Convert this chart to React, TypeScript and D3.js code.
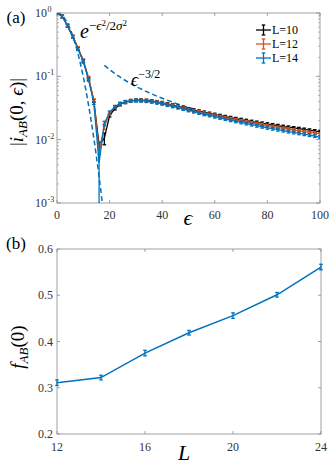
import React from 'react';
import * as d3 from 'd3';

// ---- panel (a): |i_AB(0, eps)| vs eps, step 2 ----
const epsGrid = d3.range(0, 101, 2);

const iL10 = [1, 0.88, 0.63, 0.42, 0.275, 0.175, 0.092, 0.041, 0.0083, 0.0105, 0.024, 0.031, 0.036, 0.039, 0.041,
  0.042, 0.042, 0.0415, 0.0408, 0.0395, 0.0382, 0.0366, 0.035, 0.0335, 0.032, 0.0306, 0.0293, 0.0281, 0.027, 0.0259,
  0.0249, 0.0239, 0.023, 0.0222, 0.0214, 0.0207, 0.02, 0.0193, 0.0187, 0.0181, 0.0176, 0.0171, 0.0166, 0.0161, 0.0157,
  0.0153, 0.0149, 0.0145, 0.0141, 0.0137, 0.0133];
const iL12 = [1, 0.88, 0.64, 0.43, 0.28, 0.18, 0.095, 0.042, 0.0068, 0.016, 0.026, 0.033, 0.037, 0.0395, 0.041,
  0.0418, 0.0417, 0.0411, 0.0403, 0.039, 0.0376, 0.036, 0.0344, 0.0328, 0.0313, 0.0299, 0.0286, 0.0274, 0.0262, 0.0251,
  0.0241, 0.0231, 0.0222, 0.0214, 0.0206, 0.0198, 0.0191, 0.0184, 0.0178, 0.0172, 0.0166, 0.0161, 0.0156, 0.0151, 0.0147,
  0.0142, 0.0138, 0.0134, 0.013, 0.0127, 0.0123];
const iL14 = [1, 0.88, 0.63, 0.42, 0.27, 0.17, 0.088, 0.038, 0.0043, 0.018, 0.027, 0.033, 0.037, 0.0395, 0.041,
  0.0415, 0.0413, 0.0406, 0.0397, 0.0383, 0.0369, 0.0352, 0.0336, 0.032, 0.0305, 0.029, 0.0277, 0.0264, 0.0252, 0.0241,
  0.0231, 0.0221, 0.0212, 0.0203, 0.0195, 0.0187, 0.018, 0.0173, 0.0166, 0.016, 0.0154, 0.0149, 0.0144, 0.0139, 0.0134,
  0.013, 0.0126, 0.0122, 0.0118, 0.0114, 0.011];

// error bars: relative everywhere, absolute around the dip
const relErr = 0.05;
const dipErrL10: Record<number, number> = { 16: 0.0008, 18: 0.0022 };
const dipErrL12: Record<number, number> = { 16: 0.001, 18: 0.0015 };
const dipErrL14: Record<number, number> = { 16: 0.0048, 18: 0.0015 };

// dashed guide curves
const gaussEps = [0, 2, 4, 6, 8, 10, 12, 14, 16, 17, 18];
const gaussVal = [1, 0.911, 0.69, 0.433, 0.226, 0.098, 0.035, 0.0105, 0.0026, 0.0012, 0.0005];
const powEps = [18, 20, 25, 30, 35, 40, 45, 52];
const powVal = [0.149, 0.1275, 0.0912, 0.0694, 0.0551, 0.045, 0.0378, 0.0304];

const epsTicks = [0, 20, 40, 60, 80, 100];
const decades = [1e-3, 1e-2, 1e-1, 1];
const decadeExp = ['-3', '-2', '-1', '0'];

// ---- panel (b): f_AB(0) vs L ----
const sizes = [12, 14, 16, 18, 20, 22, 24];
const fAB = [0.311, 0.322, 0.375, 0.419, 0.456, 0.501, 0.561];
const fErr = [0.006, 0.005, 0.006, 0.005, 0.006, 0.005, 0.006];
const lTicks = [12, 16, 20, 24];
const fTicks = [0.2, 0.3, 0.4, 0.5, 0.6];

const BLUE = '#0072BD';
const ORANGE = '#D95319';
const BLACK = '#000000';
const AXIS = '#8a8a8a';
const LABEL = '#333333';
const FONT = '"Liberation Serif", "DejaVu Serif", serif';

const series = [
  { name: 'L=10', vals: iL10, dip: dipErrL10, color: BLACK },
  { name: 'L=12', vals: iL12, dip: dipErrL12, color: ORANGE },
  { name: 'L=14', vals: iL14, dip: dipErrL14, color: BLUE },
];

function ErrBar({ x, y1, y2, color }: { x: number; y1: number; y2: number; color: string }) {
  return (
    <g stroke={color} strokeWidth={1.3}>
      <line x1={x} x2={x} y1={y1} y2={y2} />
      <line x1={x - 1.8} x2={x + 1.8} y1={y1} y2={y1} />
      <line x1={x - 1.8} x2={x + 1.8} y1={y2} y2={y2} />
    </g>
  );
}

export default function App() {
  // panel a
  const ax = d3.scaleLinear().domain([0, 100]).range([57, 320]);
  const ay = d3.scaleLog().domain([1e-3, 1]).range([203, 13]);
  const aLine = d3.line<[number, number]>().x(d => ax(d[0])).y(d => ay(d[1]));
  const aCurve = d3.line<[number, number]>().x(d => ax(d[0])).y(d => ay(d[1])).curve(d3.curveMonotoneX);
  const safeY = (v: number) => (v <= 0 ? 260 : ay(v));

  // panel b
  const bx = d3.scaleLinear().domain([12, 24]).range([57, 321]);
  const by = d3.scaleLinear().domain([0.2, 0.6]).range([434, 249]);
  const bLine = d3.line<number>().x((d, i) => bx(sizes[i])).y(d => by(d));

  const minors: number[] = [];
  decades.slice(0, 3).forEach(d => { for (let k = 2; k <= 9; k++) minors.push(d * k); });

  const [ax0, ax1] = ax.range();
  const [ayB, ayT] = ay.range();
  const [bx0, bx1] = bx.range();
  const [byB, byT] = by.range();

  return (
    <svg width={332} height={469} style={{ position: 'absolute', left: 0, top: 0, background: '#fff' }}
      fontFamily={FONT}>
      <defs>
        <clipPath id="clipA">
          <rect x={ax0} y={ayT} width={ax1 - ax0} height={ayB - ayT} />
        </clipPath>
        <clipPath id="clipB">
          <rect x={bx0} y={byT} width={bx1 - bx0} height={byB - byT} />
        </clipPath>
      </defs>

      {/* ===== panel (a) ===== */}
      <rect x={ax0} y={ayT} width={ax1 - ax0} height={ayB - ayT} fill="none" stroke={AXIS} strokeWidth={0.8} />
      {epsTicks.map(t => (
        <g key={'axt' + t}>
          <line x1={ax(t)} x2={ax(t)} y1={ayB} y2={ayB - 3} stroke={AXIS} strokeWidth={0.8} />
          <line x1={ax(t)} x2={ax(t)} y1={ayT} y2={ayT + 3} stroke={AXIS} strokeWidth={0.8} />
          <text x={ax(t)} y={ayB + 16} textAnchor="middle" fontSize={12} fill={LABEL}>{t}</text>
        </g>
      ))}
      {decades.map((d, i) => (
        <g key={'ayt' + d}>
          <line x1={ax0} x2={ax0 + 4} y1={ay(d)} y2={ay(d)} stroke={AXIS} strokeWidth={0.8} />
          <line x1={ax1} x2={ax1 - 4} y1={ay(d)} y2={ay(d)} stroke={AXIS} strokeWidth={0.8} />
          <text x={47} y={ay(d) + 4} textAnchor="end" fontSize={12} fill={LABEL}>10</text>
          <text x={47.5} y={ay(d) - 1} fontSize={8} fill={LABEL}>{decadeExp[i]}</text>
        </g>
      ))}
      {minors.map(m => (
        <g key={'aym' + m}>
          <line x1={ax0} x2={ax0 + 2} y1={ay(m)} y2={ay(m)} stroke={AXIS} strokeWidth={0.6} />
          <line x1={ax1} x2={ax1 - 2} y1={ay(m)} y2={ay(m)} stroke={AXIS} strokeWidth={0.6} />
        </g>
      ))}

      <g clipPath="url(#clipA)">
        <path d={aCurve(gaussEps.map((e, i) => [e, gaussVal[i]]) as [number, number][]) || ''}
          fill="none" stroke={BLUE} strokeWidth={1.5} strokeDasharray="5,3" />
        <path d={aCurve(powEps.map((e, i) => [e, powVal[i]]) as [number, number][]) || ''}
          fill="none" stroke={BLUE} strokeWidth={1.5} strokeDasharray="5,3" />
        {series.map(s => (
          <g key={s.name}>
            <path d={aLine(epsGrid.map((e, i) => [e, s.vals[i]]) as [number, number][]) || ''}
              fill="none" stroke={s.color} strokeWidth={1.3} />
            {epsGrid.map((e, i) => {
              const v = s.vals[i];
              const err = s.dip[e] !== undefined ? s.dip[e] : v * relErr;
              return <ErrBar key={e} x={ax(e)} y1={safeY(v - err)} y2={ay(v + err)} color={s.color} />;
            })}
          </g>
        ))}
      </g>

      {/* legend */}
      {series.map((s, i) => {
        const ly = 30 + i * 14;
        return (
          <g key={'leg' + s.name}>
            <line x1={256} x2={271} y1={ly} y2={ly} stroke={s.color} strokeWidth={1.3} />
            <ErrBar x={263.5} y1={ly - 5} y2={ly + 5} color={s.color} />
            <text x={272} y={ly + 4} fontSize={12} fill="#000">{s.name}</text>
          </g>
        );
      })}

      {/* annotations */}
      <text x={80} y={38} fontSize={20} fontStyle="italic" fill="#000">
        e
        <tspan dy={-8} fontSize={13} fontStyle="normal">−</tspan>
        <tspan fontSize={13}>ϵ</tspan>
        <tspan dy={-4} fontSize={9} fontStyle="normal">2</tspan>
        <tspan dy={4} fontSize={13} fontStyle="normal">/2</tspan>
        <tspan fontSize={13}>σ</tspan>
        <tspan dy={-4} fontSize={9} fontStyle="normal">2</tspan>
      </text>
      <text x={131} y={86} fontSize={18} fontStyle="italic" fill="#000">
        ϵ
        <tspan dy={-8} fontSize={12} fontStyle="normal">−3/2</tspan>
      </text>

      <text x={16} y={23} textAnchor="middle" fontSize={17} fill="#000">(a)</text>
      <text transform="translate(23,112) rotate(-90)" textAnchor="middle" fontSize={19} fill="#000">
        |<tspan fontStyle="italic">i</tspan>
        <tspan dy={4} fontSize={13} fontStyle="italic">AB</tspan>
        <tspan dy={-4}>(0, </tspan>
        <tspan fontStyle="italic">ϵ</tspan>)|
      </text>
      <text x={188} y={225} textAnchor="middle" fontSize={22} fontStyle="italic" fill="#000">ϵ</text>

      {/* ===== panel (b) ===== */}
      <rect x={bx0} y={byT} width={bx1 - bx0} height={byB - byT} fill="none" stroke={AXIS} strokeWidth={0.8} />
      {lTicks.map(t => (
        <g key={'bxt' + t}>
          <line x1={bx(t)} x2={bx(t)} y1={byB} y2={byB - 3} stroke={AXIS} strokeWidth={0.8} />
          <line x1={bx(t)} x2={bx(t)} y1={byT} y2={byT + 3} stroke={AXIS} strokeWidth={0.8} />
          <text x={bx(t)} y={byB + 17} textAnchor="middle" fontSize={12} fill={LABEL}>{t}</text>
        </g>
      ))}
      {fTicks.map(t => (
        <g key={'byt' + t}>
          <line x1={bx0} x2={bx0 + 3} y1={by(t)} y2={by(t)} stroke={AXIS} strokeWidth={0.8} />
          <line x1={bx1} x2={bx1 - 3} y1={by(t)} y2={by(t)} stroke={AXIS} strokeWidth={0.8} />
          <text x={53} y={by(t) + 4} textAnchor="end" fontSize={12} fill={LABEL}>{d3.format('.1f')(t)}</text>
        </g>
      ))}
      <g clipPath="url(#clipB)">
        <path d={bLine(fAB) || ''} fill="none" stroke={BLUE} strokeWidth={1.5} />
      </g>
      {fAB.map((v, i) => (
        <ErrBar key={'be' + i} x={bx(sizes[i])} y1={by(v - fErr[i])} y2={by(v + fErr[i])} color={BLUE} />
      ))}

      <text x={16} y={249} textAnchor="middle" fontSize={17} fill="#000">(b)</text>
      <text transform="translate(24,347) rotate(-90)" textAnchor="middle" fontSize={19} fill="#000">
        <tspan fontStyle="italic">f</tspan>
        <tspan dy={4} fontSize={13} fontStyle="italic">AB</tspan>
        <tspan dy={-4}>(0)</tspan>
      </text>
      <text x={184} y={460} textAnchor="middle" fontSize={22} fontStyle="italic" fill="#000">L</text>
    </svg>
  );
}
